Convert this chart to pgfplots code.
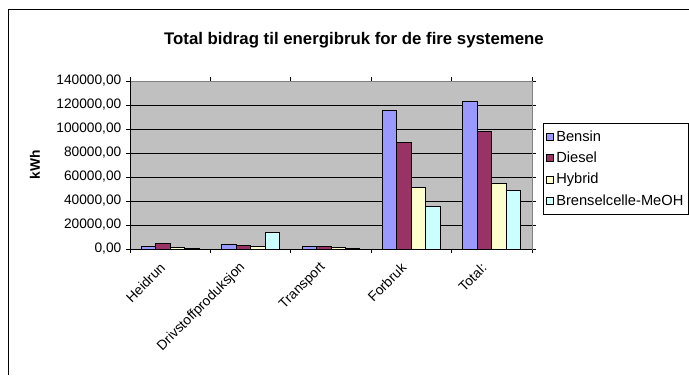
\documentclass[border=0pt]{standalone}
\usepackage{pgfplots}
\pgfplotsset{compat=1.18}
\usepackage{fontspec}
\setmainfont{Liberation Sans}

\definecolor{cBensin}{HTML}{9999FF}
\definecolor{cDiesel}{HTML}{993366}
\definecolor{cHybrid}{HTML}{FFFFCC}
\definecolor{cBrensel}{HTML}{CCFFFF}
\definecolor{plotbg}{HTML}{C0C0C0}

% Energy contributions (kWh) per stage: Heidrun, Drivstoffproduksjon, Transport, Forbruk, Total
\pgfplotstableread{
x  bensin  diesel  hybrid  brensel
0  2200    4200    1400    600
1  3900    3300    2000    13600
2  2000    1800    1200    700
3  115000  89000   51600   35500
4  122900  97600   54900   49100
}\energy

\begin{document}
\begin{tikzpicture}[x=0.75pt,y=0.75pt]
\useasboundingbox (0,0) rectangle (689,375);
\coordinate (axsw) at (130,126);
% chart frame
\draw[black, line width=0.75pt] (8,0) -- (8,365) -- (689,365);
% title
\node[font=\bfseries\fontsize{12.6}{15}\selectfont] at (354,335) {Total bidrag til energibruk for de fire systemene};
% y label
\node[font=\bfseries\fontsize{10.3}{12}\selectfont, rotate=90] at (35,210) {kWh};

\begin{axis}[
  at={(axsw)}, anchor=south west,
  scale only axis, width=301.5pt, height=126pt,
  ymin=0, ymax=140000, ytick={0,20000,...,140000},
  scaled y ticks=false,
  xmin=-0.5, xmax=4.5,
  xtick={0,1,2,3,4},
  xticklabels={Heidrun,Drivstoffproduksjon,Transport,Forbruk,Total:},
  minor xtick={-0.5,0.5,1.5,2.5,3.5,4.5},
  major x tick style={draw=none},
  minor x tick style={black, line width=0.6pt},
  tick align=outside,
  major tick length=3pt, minor tick length=3pt,
  ytick style={black, line width=0.6pt},
  ymajorgrids, grid style={black, line width=0.6pt},
  axis background/.style={fill=plotbg},
  axis line style={draw=gray, line width=0.6pt},
  tick label style={font=\fontsize{10.3}{12}\selectfont},
  /pgf/number format/assume math mode=true,
  yticklabel={\pgfmathprintnumber[fixed,fixed zerofill,precision=2,use comma,1000 sep={}]{\tick}},
  xticklabel style={rotate=45, anchor=east, yshift=-2.6pt, xshift=-7.3pt},
  ybar, bar width=0.18,
  every axis plot/.append style={draw=black, line width=0.75pt},
  legend style={at={(axis description cs:1.0266,0.748)}, anchor=north west,
    draw=black, line width=0.75pt, font=\fontsize{11}{13}\selectfont,
    inner xsep=2pt, inner ysep=3pt, row sep=2.6pt, cells={anchor=west}},
  legend image code/.code={\draw[#1, line width=0.6pt] (0pt,-2.6pt) rectangle (5.2pt,2.6pt);},
  clip=false,
]
\addplot[fill=cBensin, bar shift=-0.27] table[x=x,y=bensin] {\energy};
\addplot[fill=cDiesel, bar shift=-0.09] table[x=x,y=diesel] {\energy};
\addplot[fill=cHybrid, bar shift=0.09] table[x=x,y=hybrid] {\energy};
\addplot[fill=cBrensel, bar shift=0.27] table[x=x,y=brensel] {\energy};
\legend{Bensin,Diesel,Hybrid,Brenselcelle-MeOH}
\draw[black, line width=0.75pt] (rel axis cs:0,1) -- (rel axis cs:0,0) -- (rel axis cs:1,0);
\end{axis}
\end{tikzpicture}
\end{document}
